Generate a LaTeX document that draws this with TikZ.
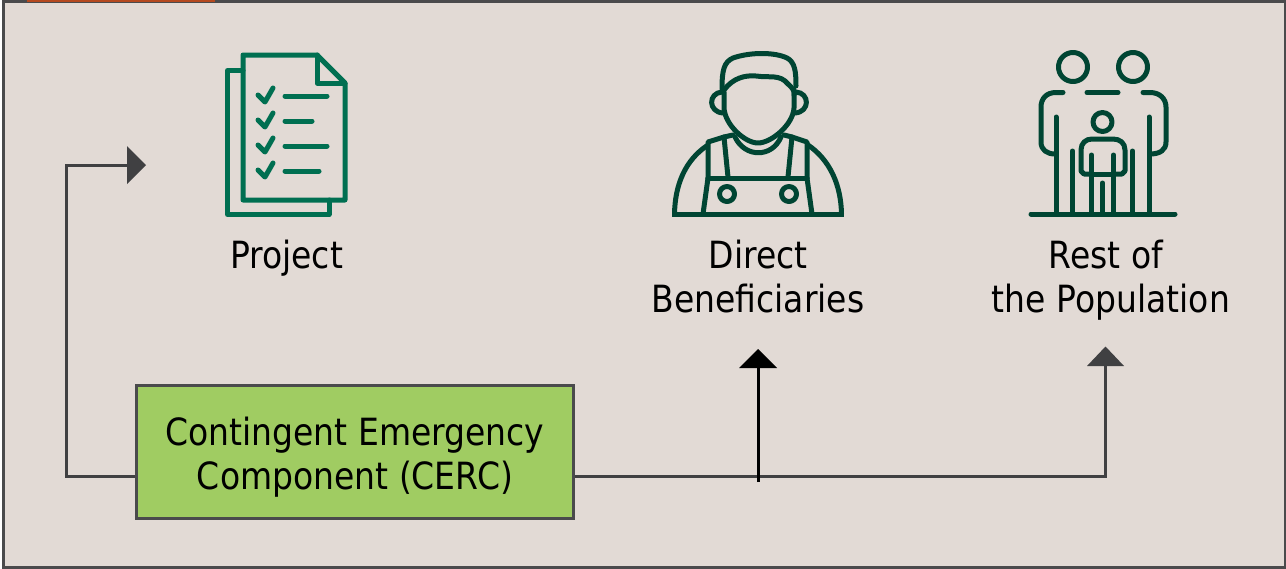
\documentclass[tikz,border=0pt]{standalone}
\usepackage{fontspec}
\setmainfont[FakeStretch=0.88]{DejaVu Sans}
\definecolor{bgc}{HTML}{E2DAD5}
\definecolor{framec}{HTML}{4A4A4C}
\definecolor{arrowc}{HTML}{404042}
\definecolor{greenbox}{HTML}{A0CC62}
\definecolor{docc}{HTML}{006F51}
\definecolor{darkg}{HTML}{004533}
\definecolor{rust}{HTML}{B5491F}
\tikzset{
  x=1pt,y=-1pt,
  frame/.style={draw=framec,line width=3pt,fill=bgc},
  lbl/.style={font=\fontsize{37.5}{44}\selectfont,align=center,text=black,inner sep=0pt},
  conn/.style={draw=arrowc,line width=3pt},
  boxst/.style={draw=framec,line width=3pt,fill=greenbox,minimum width=437pt,minimum height=133pt,inner sep=0pt},
  docline/.style={draw=docc,line width=5pt,line cap=round,line join=round},
  darkline/.style={draw=darkg,line width=5pt,line cap=round,line join=round},
}
\begin{document}
\begin{tikzpicture}
\useasboundingbox (0,0) rectangle (1286,568);
\fill[white] (0,0) rectangle (1286,568);
\draw[frame] (3.5,1.5) rectangle (1285,567);
\fill[framec] (24,0) rectangle (218,2);
\fill[rust] (27,0) rectangle (215,1.6);
% Project icon
\draw[docline] (243,55) -- (317,55) -- (345,83) -- (345,200) -- (243,200) -- cycle;
\draw[docline] (317,55) -- (317,83) -- (345,83);
\draw[docline] (243,70.5) -- (227.5,70.5) -- (227.5,214.5) -- (329,214.5) -- (329,200);
\foreach \y/\e in {96/327,121/312,146/327,171/319}{
  \draw[docline] (258,\y-1) -- (265,\y+6) -- (273,\y-8);
  \draw[docline] (285,\y) -- (\e,\y);
}
% Beneficiaries icon
\draw[darkline] (722,89) .. controls (722,70) and (724,62) .. (733,58) .. controls (750,52) and (775,52) .. (787,58) .. controls (795,62) and (796,72) .. (796,86);
\draw[darkline] (724,90) .. controls (733,78) and (745,75) .. (756,76) .. controls (770,78) and (780,74) .. (788,84) .. controls (793,88) and (795,92) .. (794,95);
\draw[darkline] (724,92) -- (724,108) .. controls (725,125) and (745,143) .. (758,143) .. controls (771,143) and (793,125) .. (794,108) -- (794,90);
\draw[darkline] (722,92) .. controls (708,93) and (708,112) .. (723,113);
\draw[darkline] (796,92) .. controls (810,93) and (810,112) .. (795,113);
\draw[darkline] (735,137) .. controls (745,158) and (772,158) .. (781,137);
\draw[darkline] (733,135) -- (724,137) -- (708,142) -- (708,178);
\draw[darkline] (784,135) -- (792,137) -- (807,142) -- (807,178);
\draw[darkline] (724,137) -- (728,177);
\draw[darkline] (792,137) -- (788,177);
\draw[darkline] (708,178) -- (807,178);
\draw[darkline] (708,178) -- (703,214);
\draw[darkline] (807,178) -- (812,214);
\draw[darkline,line cap=butt] (708,145) .. controls (685,160) and (675,185) .. (674.5,214);
\draw[darkline,line cap=butt] (808,145) .. controls (830,160) and (841,185) .. (841.5,214);
\draw[darkline,line cap=butt] (672,214.5) -- (844,214.5);
\draw[darkline] (727,194) circle (7.5);
\draw[darkline] (789,194) circle (7.5);
% Population icon
\draw[darkline] (1073,67) circle (14.5);
\draw[darkline] (1133,67) circle (14.5);
\draw[darkline] (1102.5,122) circle (9.5);
\draw[darkline] (1063,92.5) -- (1056,92.5) .. controls (1046,92.5) and (1041,99) .. (1041,107) -- (1041,142) .. controls (1041,150) and (1047,154) .. (1055,154);
\draw[darkline] (1087,92.5) -- (1118,92.5);
\draw[darkline] (1143,92.5) -- (1150,92.5) .. controls (1160,92.5) and (1166,99) .. (1166,107) -- (1166,142) .. controls (1166,150) and (1160,154) .. (1150,154);
\draw[darkline] (1056,117) -- (1056,214);
\draw[darkline] (1149,117) -- (1149,214);
\draw[darkline] (1072.5,151) -- (1072.5,214);
\draw[darkline] (1132.5,151) -- (1132.5,214);
\draw[darkline] (1091.5,155) -- (1091.5,214);
\draw[darkline] (1113.5,155) -- (1113.5,214);
\draw[darkline] (1102.5,183) -- (1102.5,214);
\draw[darkline] (1091.5,174) -- (1084,174) -- (1081,171) -- (1081,150) .. controls (1081,143) and (1086,139) .. (1092,139) -- (1113,139) .. controls (1120,139) and (1125,143) .. (1125,150) -- (1125,171) -- (1122,174) -- (1113.5,174);
\draw[darkline] (1091.5,174) -- (1113.5,174);
\draw[darkline] (1031,214) -- (1175,214);
% Labels
\node[lbl,anchor=base] (project) at (286.5,268) {Project};
\node[lbl,anchor=base] (direct) at (758,268) {Direct};
\node[lbl,anchor=base] (direct2) at (758,312) {Beneficiaries};
\node[lbl,anchor=base] (rest) at (1106,268) {Rest of};
\node[lbl,anchor=base] (rest2) at (1111,312) {the Population};
% Box and connectors
\node[boxst] (cerc) at (355,451.5) {};
\node[lbl,anchor=base] (cerc1) at (355,445) {Contingent Emergency};
\node[lbl,anchor=base] (cerc2) at (355,489) {Component (CERC)};
\coordinate (projTip) at (146,165);
\coordinate (projBase) at (127,165);
\coordinate (benTip) at (758,349);
\coordinate (benBase) at (758,368);
\coordinate (restTip) at (1105.5,346.5);
\coordinate (restBase) at (1105.5,366);
\draw[conn] (cerc.west |- 0,476) -- (66,476) -- (66,165) -- (projBase);
\draw[conn] (cerc.east |- 0,476) -- (1105.5,476) -- (restBase);
\draw[draw=black,line width=3pt] (758,482) -- (benBase);
\fill[arrowc] (projTip) -- (127,146) -- (127,184) -- cycle;
\fill[black] (benTip) -- (739,368) -- (777,368) -- cycle;
\fill[arrowc] (restTip) -- (1087,366) -- (1124,366) -- cycle;
\end{tikzpicture}
\end{document}
